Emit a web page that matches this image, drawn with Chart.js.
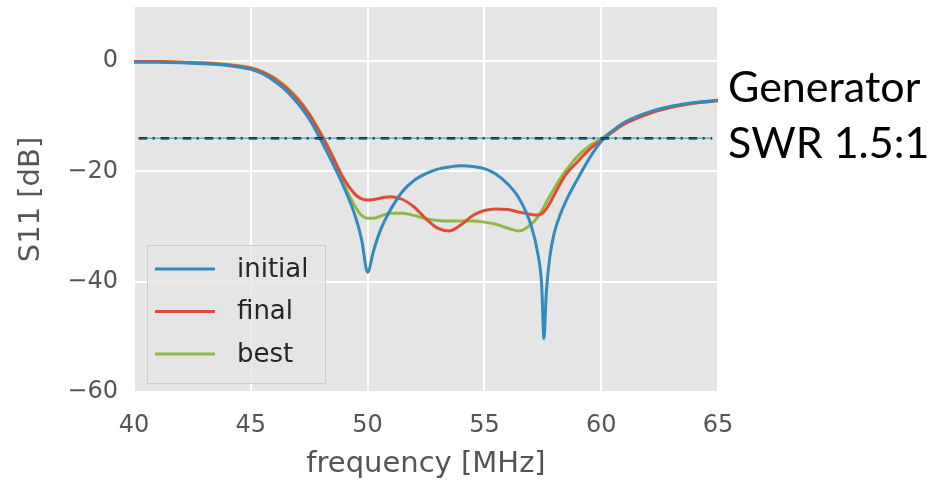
<!DOCTYPE html>
<html>
<head>
<meta charset="utf-8">
<script src="https://cdn.jsdelivr.net/npm/chart.js@4.4.1/dist/chart.umd.min.js"></script>
<style>
  html, body { margin: 0; padding: 0; background: #fff; }
  #wrap { width: 931px; height: 482px; }
</style>
</head>
<body>
<div id="wrap"><canvas id="s11Chart" width="931" height="482"></canvas></div>
<script>
// frequency points [MHz]
const freq = [40, 41, 42, 43, 44, 45, 45.5, 46, 46.5, 47, 47.5, 48, 48.5, 49, 49.5, 49.75,
  50, 50.25, 50.5, 50.75, 51, 51.5, 52, 52.5, 53, 53.5, 54, 54.5, 55, 55.5, 56, 56.5, 57,
  57.3, 57.45, 57.55, 57.65, 57.8, 58, 58.25, 58.5, 59, 59.5, 60, 60.5, 61, 62, 63, 64, 65];

// S11 [dB]
const initialS11 = [-0.2, -0.2, -0.3, -0.5, -0.8, -1.5, -2.3, -3.6, -5.3, -7.6, -10.5, -14.3, -18.5, -23, -28.5, -32.5,
  -38.3, -34.5, -31.2, -28.8, -26.8, -23.6, -21.6, -20.4, -19.6, -19.2, -19.0, -19.1, -19.5, -20.5, -22.3, -25, -29.8,
  -35.2, -40.5, -50.3, -42, -35.5, -31, -27.8, -25.3, -21.3, -17.6, -14.6, -12.6, -11.1, -9.3, -8.2, -7.5, -7.1];
const finalS11 = [-0.1, -0.1, -0.2, -0.4, -0.7, -1.3, -2.0, -3.2, -4.8, -6.9, -9.7, -13.3, -17.3, -21.5, -24.3, -25,
  -25.2, -25.1, -24.9, -24.7, -24.6, -25.1, -26.5, -28.6, -30.3, -30.8, -29.7, -28, -27.1, -26.8, -26.9, -27.4, -27.8,
  -27.9, -27.7, -27.3, -26.8, -25.8, -24.2, -22.2, -20.5, -18.2, -16.0, -14.4, -12.8, -11.4, -9.6, -8.4, -7.6, -7.2];
const bestS11 = [-0.1, -0.1, -0.2, -0.3, -0.6, -1.2, -1.9, -3.0, -4.6, -6.7, -9.5, -13.1, -17.2, -22.5, -26.6, -28,
  -28.5, -28.5, -28.2, -27.8, -27.6, -27.6, -28.0, -28.6, -28.9, -29.0, -29.0, -29.0, -29.2, -29.6, -30.3, -30.8, -29.6,
  -28.2, -27.2, -26.4, -25.6, -24.5, -23.0, -21.3, -19.8, -17.2, -15.4, -14.1, -12.6, -11.3, -9.5, -8.3, -7.6, -7.2];

// generator SWR 1.5:1 limit
const swrLimit = -13.98;
const swrSpan = [40.2, 64.75];

const xTicks = [40, 45, 50, 55, 60, 65];
const yTicks = [-60, -40, -20, 0];
const noteLines = ['Generator', 'SWR 1.5:1'];

const toPoints = vals => freq.map((f, i) => ({ x: f, y: vals[i] }));
const limitPoints = swrSpan.map(f => ({ x: f, y: swrLimit }));

// grey plot background
const plotBg = {
  id: 'plotBg',
  beforeDraw(chart) {
    const { ctx, chartArea: a } = chart;
    ctx.save();
    ctx.fillStyle = '#E5E5E5';
    ctx.fillRect(a.left, a.top, a.right - a.left, a.bottom - a.top);
    ctx.restore();
  }
};

// legend inside the axes, lower left
const innerLegend = {
  id: 'innerLegend',
  afterDatasetsDraw(chart) {
    const { ctx } = chart;
    const items = chart.data.datasets.filter(d => d.inLegend);
    ctx.save();
    ctx.fillStyle = 'rgba(229,229,229,0.8)';
    ctx.strokeStyle = '#CCCCCC';
    ctx.lineWidth = 1;
    ctx.fillRect(147, 245, 178, 138);
    ctx.strokeRect(147.5, 245.5, 178, 138);
    ctx.font = '26px "DejaVu Sans"';
    ctx.textBaseline = 'middle';
    items.forEach((d, i) => {
      const y = 269 + i * 42.5;
      ctx.strokeStyle = d.borderColor;
      ctx.lineWidth = 3;
      ctx.beginPath();
      ctx.moveTo(155, y);
      ctx.lineTo(215, y);
      ctx.stroke();
      ctx.fillStyle = '#262626';
      ctx.fillText(d.label, 237, y + 1);
    });
    ctx.restore();
  }
};

// text to the right of the axes
const sideNote = {
  id: 'sideNote',
  afterDraw(chart) {
    const { ctx } = chart;
    ctx.save();
    ctx.fillStyle = '#000';
    ctx.font = '43px Lato';
    ctx.textBaseline = 'alphabetic';
    ctx.fillText(noteLines[0], 728, 102);
    ctx.fillText(noteLines[1], 728, 158);
    ctx.restore();
  }
};

const ctx = document.getElementById('s11Chart').getContext('2d');
const chart = new Chart(ctx, {
  type: 'line',
  data: {
    datasets: [
      { label: 'swr', data: limitPoints, borderColor: '#348ABD', borderWidth: 1, pointRadius: 0, inLegend: false },
      { label: 'swr-dash', data: limitPoints, borderColor: '#000000', borderWidth: 2.5, borderDash: [8.5, 5.5, 2, 6], borderCapStyle: 'butt', pointRadius: 0, inLegend: false },
      { label: 'initial', data: toPoints(initialS11), borderColor: '#348ABD', borderWidth: 3, pointRadius: 0, cubicInterpolationMode: 'monotone', inLegend: true },
      { label: 'final', data: toPoints(finalS11), borderColor: '#E24A33', borderWidth: 3, pointRadius: 0, cubicInterpolationMode: 'monotone', inLegend: true },
      { label: 'best', data: toPoints(bestS11), borderColor: '#8EBA42', borderWidth: 3, pointRadius: 0, cubicInterpolationMode: 'monotone', inLegend: true }
    ]
  },
  options: {
    responsive: false,
    animation: false,
    layout: { padding: { top: 7, right: 213, bottom: 0, left: 0 } },
    plugins: {
      legend: { display: false },
      tooltip: { enabled: false }
    },
    scales: {
      x: {
        type: 'linear',
        min: 40,
        max: 65,
        afterBuildTicks: s => { s.ticks = xTicks.map(v => ({ value: v })); },
        afterFit: s => { s.height = 90; s.paddingLeft = 0; s.paddingRight = 0; },
        grid: { color: '#FFFFFF', lineWidth: 2, drawTicks: false },
        border: { display: false },
        ticks: { color: '#555555', font: { family: 'DejaVu Sans', size: 24 }, padding: 19, maxRotation: 0 },
        title: { display: true, text: 'frequency [MHz]', color: '#555555', font: { family: 'DejaVu Sans', size: 29 }, padding: { top: 0, bottom: 0 } }
      },
      y: {
        type: 'linear',
        min: -60,
        max: 9.8,
        afterBuildTicks: s => { s.ticks = yTicks.map(v => ({ value: v })); },
        afterFit: s => { s.width = 134; s.paddingTop = 0; s.paddingBottom = 0; },
        grid: { color: '#FFFFFF', lineWidth: 2, drawTicks: false },
        border: { display: false },
        ticks: {
          color: '#555555',
          font: { family: 'DejaVu Sans', size: 24 },
          padding: 16,
          callback: v => String(v).replace('-', '\u2212')
        },
        title: { display: true, text: 'S11 [dB]', color: '#555555', font: { family: 'DejaVu Sans', size: 29 }, padding: { top: 14, bottom: 0 } }
      }
    }
  },
  plugins: [plotBg, innerLegend, sideNote]
});
</script>
</body>
</html>
